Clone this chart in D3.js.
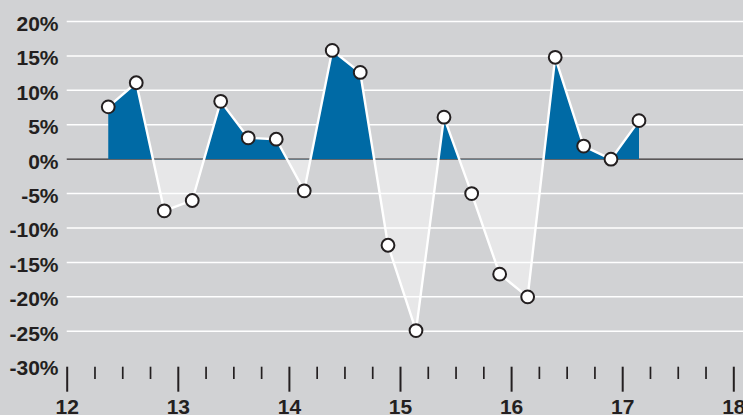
<!DOCTYPE html>
<html>
<head>
<meta charset="utf-8">
<script src="https://cdn.jsdelivr.net/npm/d3@7"></script>
<style>
  html, body { margin: 0; padding: 0; background: #d1d2d4; }
  svg { display: block; }
  text { font-family: "Liberation Sans", Arial, sans-serif; font-weight: bold; fill: #231f20; }
</style>
</head>
<body>
<svg></svg>
<script>
// Data: decimal year (12 = 2012) and % change
const xValues = [12.374, 12.626, 12.878, 13.130, 13.386, 13.634, 13.886, 14.138, 14.390, 14.642,
                 14.892, 15.144, 15.396, 15.645, 15.897, 16.149, 16.397, 16.653, 16.899, 17.151];
const yValues = [7.6, 11.1, -7.5, -6.0, 8.4, 3.1, 2.9, -4.6, 15.8, 12.6,
                 -12.5, -24.9, 6.1, -5.0, -16.7, -20.0, 14.8, 1.9, 0.0, 5.6];

const yTicks = [20, 15, 10, 5, 0, -5, -10, -15, -20, -25, -30];
const gridTicks = [20, 15, 10, 5, 0, -5, -10, -15, -20, -25];
const xMajor = [12, 13, 14, 15, 16, 17, 18];
const xMinor = d3.range(12, 18.001, 0.25).filter(d => d % 1 !== 0);

const width = 743, height = 415;
const svg = d3.select("svg").attr("width", width).attr("height", height);

const x = d3.scaleLinear().domain([12, 18]).range([66.7, 733.3]);
const y = d3.scaleLinear().domain([-30, 20]).range([365.7, 21.5]);

const data = xValues.map((v, i) => ({ x: v, y: yValues[i] }));

// background
svg.append("rect").attr("width", width).attr("height", height).attr("fill", "#d1d2d4");

// gridlines
svg.append("g").selectAll("line")
  .data(gridTicks)
  .enter().append("line")
  .attr("x1", x(12)).attr("x2", width)
  .attr("y1", d => y(d)).attr("y2", d => y(d))
  .attr("stroke", "#ffffff").attr("stroke-width", 1.5);

// zero line
svg.append("line")
  .attr("x1", x(12)).attr("x2", width)
  .attr("y1", y(0)).attr("y2", y(0))
  .attr("stroke", "#231f20").attr("stroke-width", 1.3);

// clip regions above / below zero
const defs = svg.append("defs");
defs.append("clipPath").attr("id", "above")
  .append("rect").attr("x", 0).attr("y", 0).attr("width", width).attr("height", y(0));
defs.append("clipPath").attr("id", "below")
  .append("rect").attr("x", 0).attr("y", y(0)).attr("width", width).attr("height", height - y(0));

const area = d3.area()
  .x(d => x(d.x))
  .y0(y(0))
  .y1(d => y(d.y));

svg.append("path")
  .datum(data)
  .attr("d", area)
  .attr("fill", "#ffffff")
  .attr("fill-opacity", 0.47)
  .attr("clip-path", "url(#below)");

svg.append("path")
  .datum(data)
  .attr("d", area)
  .attr("fill", "#006aa5")
  .attr("clip-path", "url(#above)");

// line
const line = d3.line().x(d => x(d.x)).y(d => y(d.y));
svg.append("path")
  .datum(data)
  .attr("d", line)
  .attr("fill", "none")
  .attr("stroke", "#ffffff")
  .attr("stroke-width", 2.4)
  .attr("stroke-linejoin", "round");

// points
svg.append("g").selectAll("circle")
  .data(data)
  .enter().append("circle")
  .attr("cx", d => x(d.x))
  .attr("cy", d => y(d.y))
  .attr("r", 6.4)
  .attr("fill", "#ffffff")
  .attr("stroke", "#231f20")
  .attr("stroke-width", 2);

// y axis labels
const yAxis = d3.axisLeft(y)
  .tickValues(yTicks)
  .tickSize(0)
  .tickPadding(0)
  .tickFormat(d => d + "%");
const gy = svg.append("g").attr("transform", "translate(58.5,0)").call(yAxis);
gy.select(".domain").remove();
gy.selectAll("text")
  .attr("font-size", 21)
  .attr("font-family", "Liberation Sans, Arial, sans-serif")
  .attr("font-weight", "bold")
  .attr("fill", "#231f20")
  .attr("dy", "0.42em");

// x axis: minor ticks
const xMinorAxis = d3.axisBottom(x)
  .tickValues(xMinor)
  .tickSize(12.3)
  .tickFormat("");
const gxm = svg.append("g").attr("transform", `translate(0,${366.7})`).call(xMinorAxis);
gxm.select(".domain").remove();
gxm.selectAll("line").attr("stroke", "#231f20").attr("stroke-width", 1.7);

// x axis: major ticks with labels
const xAxis = d3.axisBottom(x)
  .tickValues(xMajor)
  .tickSize(25)
  .tickPadding(7)
  .tickFormat(d => d);
const gx = svg.append("g").attr("transform", `translate(0,${366.7})`).call(xAxis);
gx.select(".domain").remove();
gx.selectAll("line").attr("stroke", "#231f20").attr("stroke-width", 2);
gx.selectAll("text")
  .attr("font-size", 21)
  .attr("font-family", "Liberation Sans, Arial, sans-serif")
  .attr("font-weight", "bold")
  .attr("fill", "#231f20");
</script>
</body>
</html>
